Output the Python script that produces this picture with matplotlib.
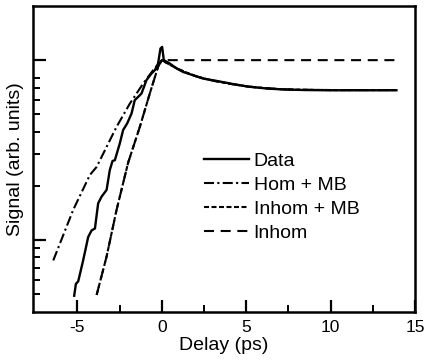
import matplotlib
matplotlib.use("Agg")
import matplotlib.pyplot as plt
from matplotlib.ticker import FixedLocator, NullFormatter

plt.rcParams['font.family'] = ['Liberation Sans', 'DejaVu Sans']
plt.rcParams['axes.unicode_minus'] = False

# Data (measured signal)
data_x = [-5.19, -5.09, -4.95, -4.66, -4.36, -4.16, -3.96, -3.77, -3.57, -3.27, -3.08,
          -2.92, -2.78, -2.49, -2.29, -2.05, -1.79, -1.6, -1.4, -1.2, -0.91, -0.61,
          -0.41, -0.22, -0.08, 0.02, 0.12, 0.28, 0.47, 0.87, 1.26, 1.85, 2.44, 3.24,
          4.22, 5.21, 6.2, 7.18, 8.5, 10.0, 11.5, 13.9]
data_y = [0.049, 0.057, 0.059, 0.077, 0.104, 0.113, 0.116, 0.16, 0.174, 0.19, 0.245,
          0.275, 0.278, 0.344, 0.409, 0.445, 0.506, 0.6, 0.625, 0.653, 0.774, 0.843,
          0.88, 0.958, 1.16, 1.185, 1.0, 0.98, 0.958, 0.9, 0.86, 0.825, 0.79, 0.767,
          0.736, 0.711, 0.696, 0.687, 0.682, 0.68, 0.68, 0.68]

# Hom + MB model
hom_x = [-6.43, -5.25, -4.26, -3.86, -2.68, -1.89, -1.1, -0.51, 0.0, 0.5, 1.0, 1.5,
         2.0, 3.0, 4.0, 5.0, 6.0, 7.0, 8.0, 10.0, 13.9]
hom_y = [0.077, 0.147, 0.23, 0.255, 0.426, 0.574, 0.742, 0.88, 1.0, 0.94, 0.89, 0.85,
         0.815, 0.77, 0.74, 0.715, 0.70, 0.69, 0.685, 0.682, 0.682]

# Inhom + MB model
inmb_x = [-3.86, -3.27, -2.68, -1.99, -1.3, -0.71, -0.22, 0.0, 0.5, 1.0, 1.5, 2.0,
          3.0, 4.0, 5.0, 6.0, 7.0, 8.0, 10.0, 13.9]
inmb_y = [0.0495, 0.081, 0.147, 0.27, 0.426, 0.653, 0.918, 1.0, 0.94, 0.89, 0.85,
          0.815, 0.77, 0.74, 0.715, 0.70, 0.69, 0.685, 0.682, 0.682]

# Inhom model
inh_x = [-3.86, -3.27, -2.68, -1.99, -1.3, -0.71, -0.22, 0.0, 13.9]
inh_y = [0.0495, 0.081, 0.147, 0.27, 0.426, 0.653, 0.918, 1.0, 1.0]

labels = ["Data", "Hom + MB", "Inhom + MB", "Inhom"]

fig = plt.figure(figsize=(4.27, 3.6), dpi=100)
ax = fig.add_axes([33/427, 48/360, (415-33)/427, (312-6)/360])

lw = 1.5
ax.plot(data_x, data_y, color='black', lw=1.7, ls='-', label=labels[0])
ax.plot(hom_x, hom_y, color='black', lw=lw, ls=(0, (4.8, 1.6, 1.0, 1.6)), label=labels[1])
ax.plot(inmb_x, inmb_y, color='black', lw=lw, ls=(0, (2.4, 1.2)), label=labels[2])
ax.plot(inh_x, inh_y, color='black', lw=lw, ls=(0, (4.8, 3.2)), label=labels[3])

ax.set_yscale('log')
ax.set_xlim(-7.63, 15)
ax.set_ylim(0.0398, 2.0)

ax.set_xticks([-5, 0, 5, 10, 15])
ax.xaxis.set_minor_locator(FixedLocator([-2.5, 2.5, 7.5, 12.5]))
ax.yaxis.set_major_locator(FixedLocator([0.1, 1.0]))
ax.yaxis.set_minor_locator(FixedLocator([0.05, 0.06, 0.07, 0.08, 0.09,
                                         0.2, 0.3, 0.4, 0.5, 0.6, 0.7, 0.8]))
ax.yaxis.set_major_formatter(NullFormatter())
ax.yaxis.set_minor_formatter(NullFormatter())

ax.tick_params(which='major', direction='in', length=9, width=1.6, labelsize=12.5)
ax.tick_params(which='minor', direction='in', length=5, width=1.4)
ax.tick_params(axis='x', pad=6)
for s in ax.spines.values():
    s.set_linewidth(1.8)

ax.set_xlabel("Delay (ps)", fontsize=14, labelpad=1)
ax.set_ylabel("Signal (arb. units)", fontsize=14, labelpad=3)

ax.legend(loc='upper left', bbox_to_anchor=(0.448, 0.522), frameon=False,
          fontsize=14, handlelength=2.3, handletextpad=0.25, labelspacing=0.33,
          borderpad=0, borderaxespad=0)

fig.savefig("out.png", dpi=100)
